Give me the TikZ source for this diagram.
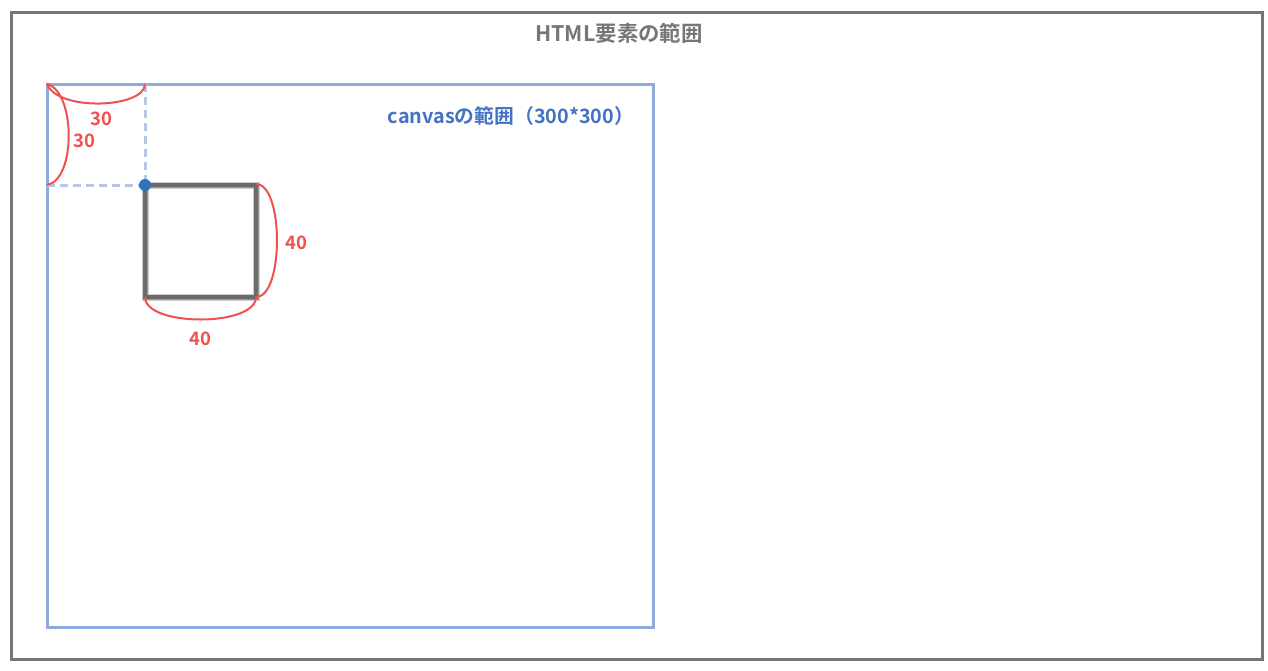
\documentclass[tikz,border=0pt]{standalone}
\usepackage{fontspec}
\setmainfont{Noto Sans CJK JP}[BoldFont={Noto Sans CJK JP Bold}]
\definecolor{frameGray}{HTML}{767676}
\definecolor{canvasBlue}{HTML}{8EAADB}
\definecolor{labelBlue}{HTML}{4472C4}
\definecolor{dashBlue}{HTML}{B4C7E7}
\definecolor{dotBlue}{HTML}{2E75B6}
\definecolor{dimRed}{HTML}{F05050}
\begin{document}
\begin{tikzpicture}[x=1pt,y=-1pt,
  dimline/.style={draw=dimRed,line width=2pt},
  dimlabel/.style={text=dimRed,font=\fontsize{18.5}{20}\selectfont\bfseries,inner sep=0pt},
  guide/.style={draw=dashBlue,line width=3pt,dash pattern=on 8pt off 5pt}]
\useasboundingbox (0,0) rectangle (1268,670);
\fill[white] (0,0) rectangle (1268,670);
% outer HTML element
\draw[frameGray,line width=3pt] (11,12) rectangle (1262,659);
\node[text=frameGray,font=\fontsize{21.4}{23}\selectfont\bfseries,inner sep=0pt] (title) at (619,33) {HTML要素の範囲};
% canvas
\draw[canvasBlue,line width=3pt] (47,84) rectangle (653,627);
\node[text=labelBlue,font=\fontsize{19.8}{21}\selectfont\bfseries,inner sep=0pt] (clabel) at (511,116) {canvasの範囲（300*300）};
% guide lines
\coordinate (topleft) at (47,84);
\coordinate (topx) at (145,84);
\coordinate (lefty) at (47,185);
\coordinate (corner) at (145,185);
\draw[guide] (topx) -- (corner);
\draw[guide] (lefty) -- (corner);
% square with blur
\draw[black!20,line width=7pt] (145,185) rectangle (256,297);
\draw[black!40,line width=5pt] (145,185) rectangle (256,297);
\draw[black!58,line width=3.2pt] (145,185) rectangle (256,297);
\fill[dotBlue] (corner) circle (6pt);
% dimension curves
\coordinate (sqtr) at (256,184);
\coordinate (sqbr) at (256,297);
\coordinate (sqbl) at (145,297);
\draw[dimline] (topleft) .. controls (58,112) and (145,108) .. (topx);
\draw[dimline] (topleft) .. controls (76,92) and (76,180) .. (lefty);
\draw[dimline] (sqtr) .. controls (284,184) and (284,297) .. (sqbr);
\draw[dimline] (sqbl) .. controls (145,327) and (256,327) .. (sqbr);
\node[dimlabel] (l1) at (101,119) {30};
\node[dimlabel] (l2) at (84,141) {30};
\node[dimlabel] (l3) at (296,243) {40};
\node[dimlabel] (l4) at (200,339) {40};
\end{tikzpicture}
\end{document}
